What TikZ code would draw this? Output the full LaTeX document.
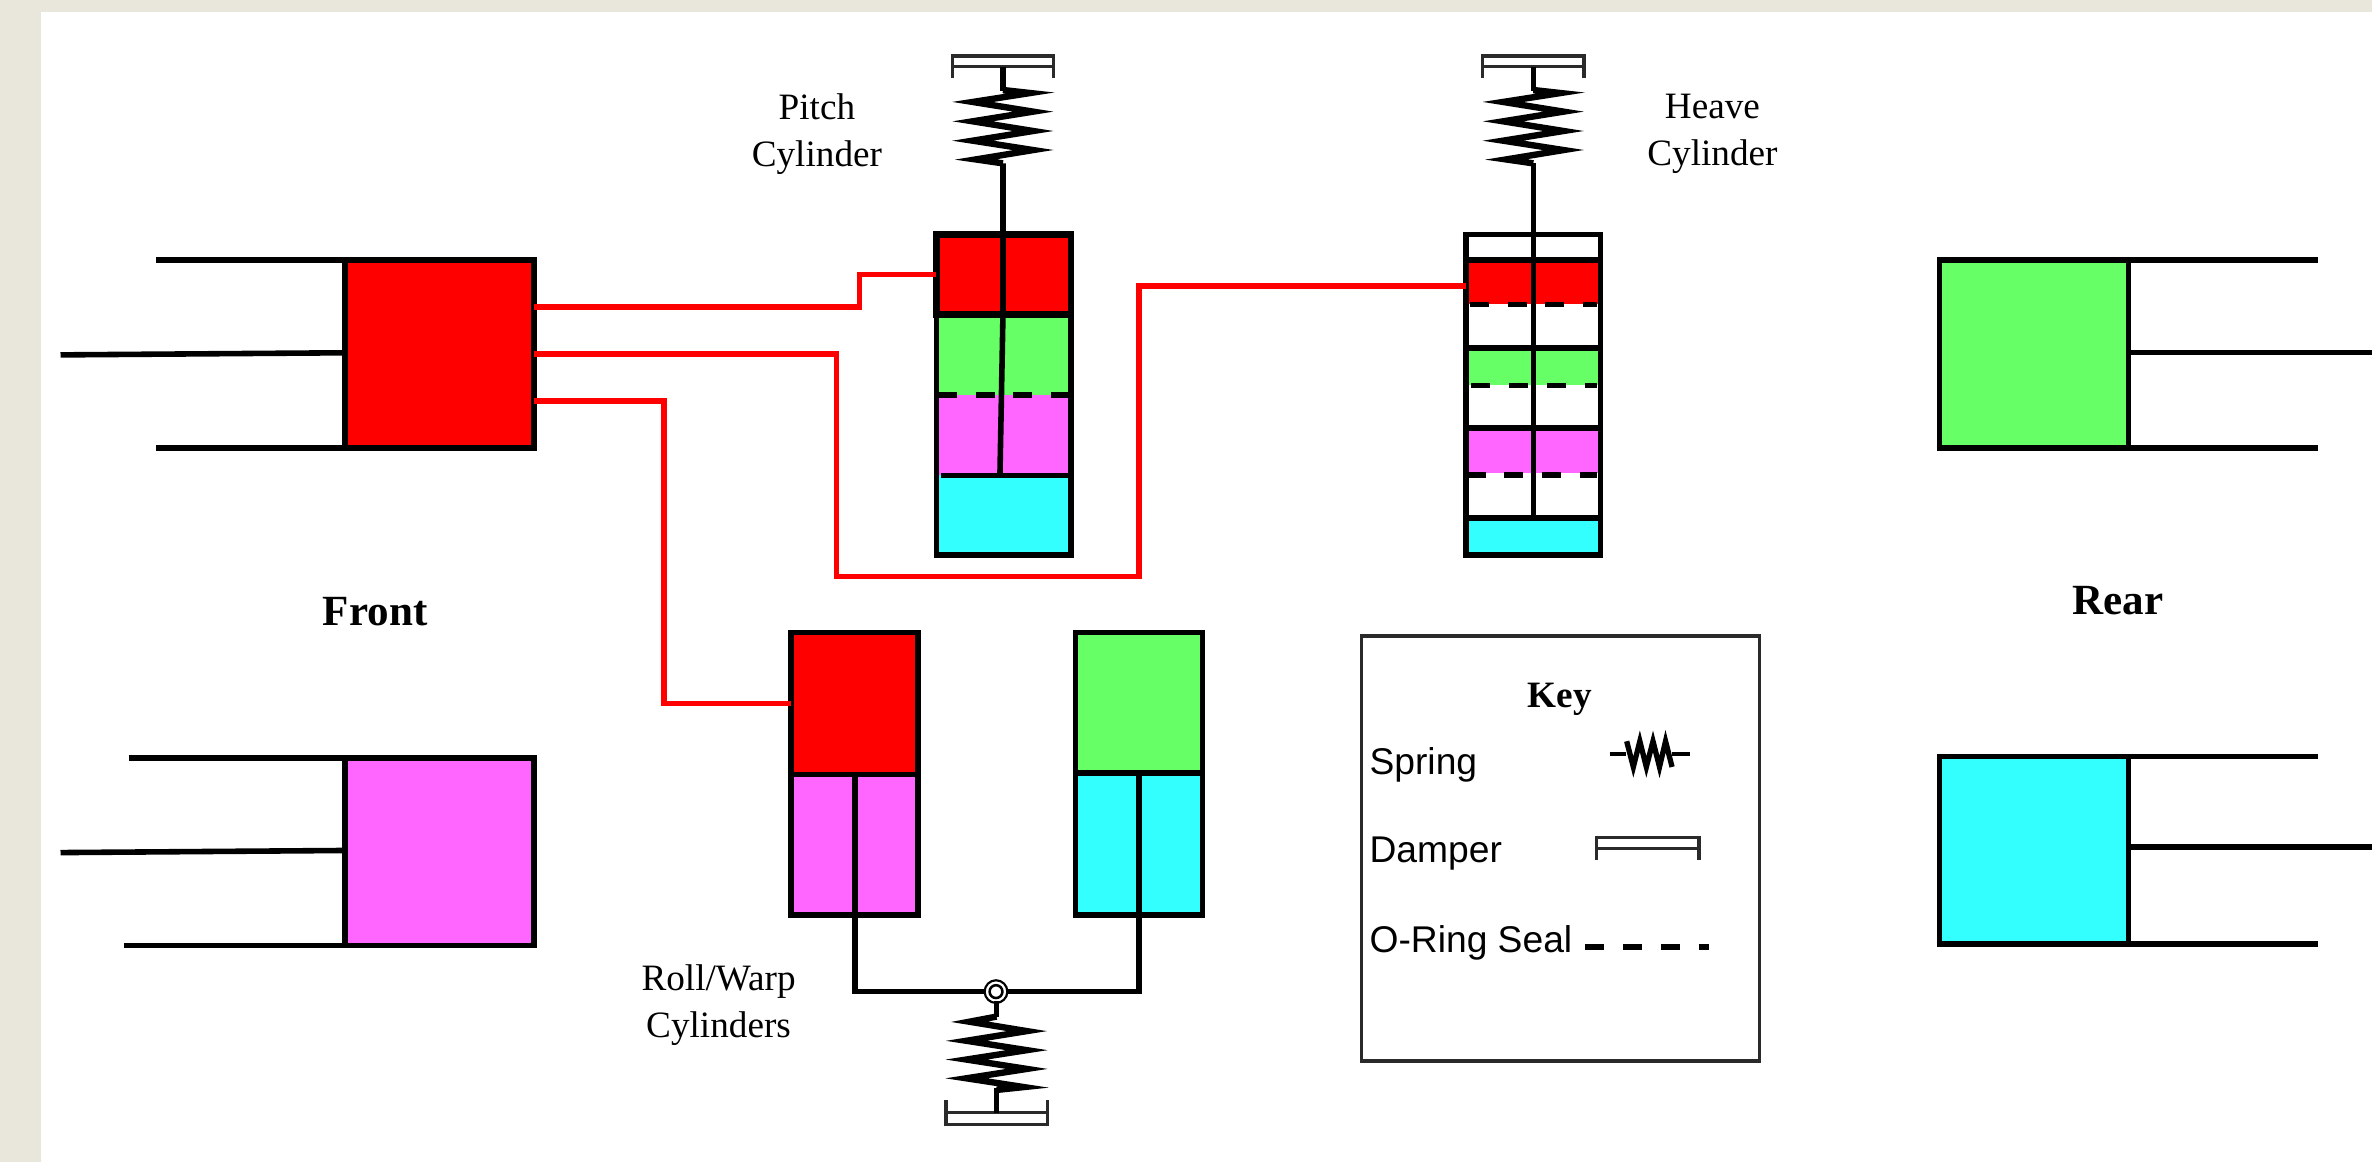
\documentclass[tikz,border=0pt]{standalone}
\usepackage{fontspec}
\setmainfont{Liberation Serif}
\newfontfamily\keysans{Liberation Sans}
\definecolor{pageBg}{HTML}{E9E7DB}
\definecolor{hGreen}{HTML}{66FF66}
\definecolor{hPink}{HTML}{FF66FF}
\definecolor{hCyan}{HTML}{33FFFF}
\definecolor{hRed}{HTML}{FF0000}
\definecolor{dampGrey}{HTML}{2A2A2A}
\tikzset{
  heavy/.style={line width=2.1pt,black},
  thickblk/.style={line width=2.5pt,black},
  pipe/.style={line width=2pt,hRed,line join=miter},
  seal/.style={line width=2.2pt,black,dash pattern=on 7.1pt off 7.1pt},
  springline/.style={line width=2.4pt,black,miter limit=25,line join=miter},
  dampline/.style={line width=1.3pt,dampGrey},
  cellbox/.style={rectangle,inner sep=0pt,outer sep=0pt,draw=none},
  framed/.style={cellbox,draw=black,line width=2.1pt},
  lbl/.style={font=\fontsize{14}{17.6}\selectfont,align=center,inner sep=0pt},
  bigl/.style={font=\fontsize{16.2}{19}\selectfont\bfseries,inner sep=0pt},
  keyl/.style={font=\keysans\fontsize{14}{17}\selectfont,anchor=west,inner sep=0pt},
  topspring/.pic={
    \draw[dampline] (-33.5,51.5) -- (-33.5,37) -- (33.5,37) -- (33.5,51.5);
    \draw[dampline] (-33.5,44) -- (33.5,44);
    \draw[heavy] (0,44) -- (0,60);
    \draw[springline] (0,59.5) -- (18,61.5) -- (-20,67.4) -- (20,73.8) -- (-20,80.2) -- (20,86.6) -- (-20,93) -- (20,99.2) -- (-18,105.4) -- (0,108);
  },
  botspring/.pic={
    \draw[dampline] (-33.5,727) -- (-33.5,743.5) -- (33.5,743.5) -- (33.5,727);
    \draw[dampline] (-33.5,735.5) -- (33.5,735.5);
    \draw[heavy] (0,662) -- (0,672);
    \draw[springline] (0,672) -- (-18,675.4) -- (20,681.6) -- (-20,688) -- (20,694.2) -- (-20,700.4) -- (20,706.6) -- (-20,712.8) -- (18,718.6) -- (0,720.5);
    \draw[heavy] (0,719) -- (0,735.5);
  },
}
\newcommand{\cellat}[6]{\node[cellbox,#6,minimum width={(#4-#2)*0.02cm},minimum height={(#5-#3)*0.02cm}] (#1) at ({(#2+#4)/2},{(#3+#5)/2}) {};}
\begin{document}
\begin{tikzpicture}[x=0.02cm,y=-0.02cm]
\useasboundingbox (0,0) rectangle (1568,768.13);
\fill[pageBg] (0,0) rectangle (1568,768.13);
\fill[white] (27,8) rectangle (1568,768.13);

% wheel cylinders
\cellat{fl}{228}{172}{353}{296}{framed,fill=hRed}
\cellat{bl}{228}{501}{353}{625}{framed,fill=hPink}
\cellat{fr}{1282}{172}{1407}{296}{framed,fill=hGreen}
\cellat{br}{1282}{500}{1407}{624}{framed,fill=hCyan}
\coordinate (flTop) at (103,172);\coordinate (flBot) at (103,296);\coordinate (flRod) at (40,234.6);\coordinate (flIn) at (228,233.2);
\coordinate (blTop) at (85,501);\coordinate (blBot) at (82,625);\coordinate (blRod) at (40,563.6);\coordinate (blIn) at (228,562.2);
\coordinate (frTop) at (1532,172);\coordinate (frBot) at (1532,296);\coordinate (frRod) at (1568,233);\coordinate (frIn) at (1407,233);
\coordinate (brTop) at (1532,500);\coordinate (brBot) at (1532,624);\coordinate (brRod) at (1568,560);\coordinate (brIn) at (1407,560);
\draw[heavy] (flTop) -- (fl.north west);
\draw[heavy] (flBot) -- (fl.south west);
\draw[heavy] (flRod) -- (flIn);
\draw[heavy] (blTop) -- (bl.north west);
\draw[heavy] (blBot) -- (bl.south west);
\draw[heavy] (blRod) -- (blIn);
\draw[heavy] (frTop) -- (fr.north east);
\draw[heavy] (frBot) -- (fr.south east);
\draw[heavy] (frRod) -- (frIn);
\draw[heavy] (brTop) -- (br.north east);
\draw[heavy] (brBot) -- (br.south east);
\draw[heavy] (brRod) -- (brIn);

% pitch cylinder
\cellat{pRed}{619}{155}{708}{208}{fill=hRed}
\cellat{pGreen}{619}{208}{708}{261}{fill=hGreen}
\cellat{pPink}{619}{261}{708}{314}{fill=hPink}
\cellat{pCyan}{619}{314}{708}{367}{fill=hCyan}
\draw[seal] (620,261.3) -- (707,261.3);
\draw[heavy] (622,314.3) -- (707,314.3);
\draw[heavy] (663,108) -- (663,208) -- (661,314);
\cellat{pOuter}{619}{155}{708}{367}{framed}
\draw[thickblk] (pRed.north west) rectangle (pRed.south east);
\pic at (663,0) {topspring};

% heave cylinder
\cellat{hRedC}{969}{172}{1058}{201}{fill=hRed}
\cellat{hGreenC}{969}{230}{1058}{254.6}{fill=hGreen}
\cellat{hPinkC}{969}{283}{1058}{313}{fill=hPink}
\cellat{hCyanC}{969}{342.6}{1058}{367}{fill=hCyan}
\draw[heavy] (969,172) -- (1058,172);
\draw[heavy] (969,230) -- (1058,230);
\draw[heavy] (969,283) -- (1058,283);
\draw[heavy] (969,342.6) -- (1058,342.6);
\draw[seal] (971.7,201.3) -- (1056,201.3);
\draw[seal] (972.7,254.8) -- (1056,254.8);
\draw[seal] (969.5,313.8) -- (1056,313.8);
\draw[heavy] (1013.6,108) -- (1013.6,342.6);
\cellat{hOuter}{969}{155}{1058}{367}{framed}
\pic at (1013.6,0) {topspring};

% roll / warp cylinders
\cellat{rlRed}{523}{418}{607}{512}{framed,fill=hRed}
\cellat{rlPink}{523}{512}{607}{605}{framed,fill=hPink}
\cellat{rrGreen}{711}{418}{795}{511}{framed,fill=hGreen}
\cellat{rrCyan}{711}{511}{795}{605}{framed,fill=hCyan}
\coordinate (barL) at (565,655.5);
\coordinate (barR) at (753,655.5);
\node[circle,inner sep=0pt,minimum size=0.3cm,draw=black,line width=0.8pt,fill=white] (pivot) at (658.4,655.5) {};
\draw[heavy,line join=miter] (rlPink.north) -- (barL) -- (pivot.west);
\draw[heavy,line join=miter] (rrCyan.north) -- (barR) -- (pivot.east);
\node[circle,inner sep=0pt,minimum size=0.17cm,draw=black,line width=0.95pt,fill=white] at (pivot.center) {};
\pic at (658.8,0) {botspring};

% hydraulic lines
\coordinate (flA) at (353,203);
\coordinate (flC) at (353,265);
\coordinate (jog) at (568,190);
\coordinate (heaveIn) at (969,189);
\draw[pipe] (flA) -| (jog) |- (pRed.west);
\draw[pipe] (fl.east) -- (553,234) -- (553,381) -- (753,381) -- (753,189) -- (heaveIn);
\draw[pipe] (flC) -- (439,265) -- (439,465) -- (rlRed.west);

% labels
\node[lbl] (pitchL) at (540,88.5) {Pitch\\Cylinder};
\node[lbl] (heaveL) at (1132,88.5) {Heave\\Cylinder};
\node[lbl] (rollL) at (475,664.5) {Roll/Warp\\Cylinders};
\node[bigl] (frontL) at (248,404) {Front};
\node[bigl] (rearL) at (1400,397) {Rear};

% key
\node[cellbox,draw=dampGrey,line width=1.3pt,minimum width={263*0.02cm},minimum height={281*0.02cm}] (keybox) at (1031.5,561) {};
\node[lbl,font=\fontsize{14}{17}\selectfont\bfseries] (keyT) at (1031,462) {Key};
\node[keyl] (kS) at (905,505.5) {Spring};
\node[keyl] (kD) at (905,564.5) {Damper};
\node[keyl] (kO) at (905,623.5) {O-Ring Seal};
\coordinate (ksA) at (1064,498.5);\coordinate (ksB) at (1117,498.5);
\draw[line width=1.5pt] (ksA) -- (1075,498.5);
\draw[line width=1.5pt] (1105,498.5) -- (ksB);
\draw[line width=2pt,miter limit=25,line join=miter] (1075.3,490) -- (1079.7,507) -- (1084,490) -- (1088.3,507) -- (1092.7,490) -- (1097,507) -- (1101,490) -- (1105.3,507);
\draw[dampline] (1055.5,568.5) -- (1055.5,553.5) -- (1123,553.5) -- (1123,568.5);
\draw[dampline] (1055.5,561) -- (1123,561);
\draw[line width=2.2pt,dash pattern=on 7.1pt off 7.1pt] (1048,626) -- (1130,626);
\end{tikzpicture}
\end{document}
